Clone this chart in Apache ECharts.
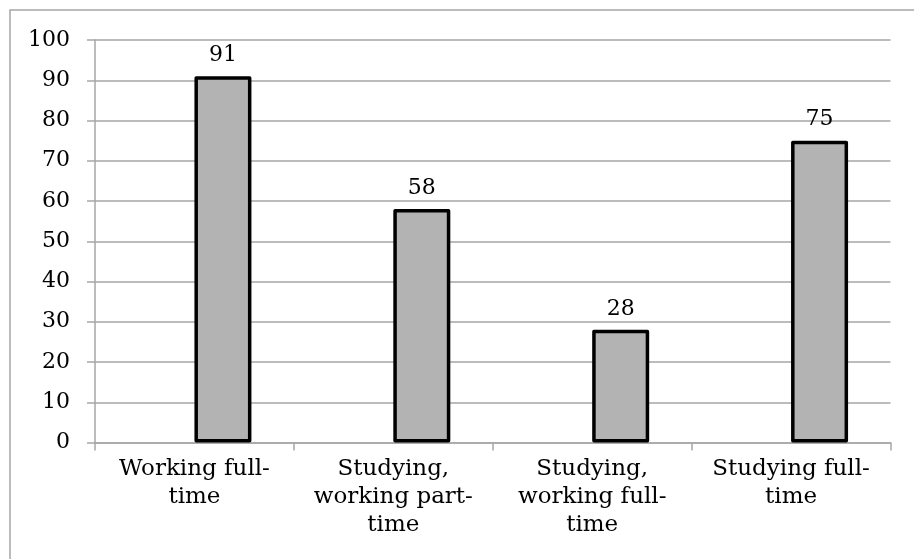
<!DOCTYPE html>
<html>
<head>
<meta charset="utf-8">
<title>Bar chart</title>
<script src="https://cdn.jsdelivr.net/npm/echarts@6/dist/echarts.min.js"></script>
<style>
  html, body { margin: 0; padding: 0; background: #ffffff; }
  #chart { width: 914px; height: 559px; }
</style>
</head>
<body>
<div id="chart"></div>
<script>
// Categories (line breaks as they wrap under the axis)
var categories = [
  'Working full-\ntime',
  'Studying,\nworking part-\ntime',
  'Studying,\nworking full-\ntime',
  'Studying full-\ntime'
];
// Values per category
var values = [91, 58, 28, 75];
// Empty leading series: the bars sit in the second slot of each category
var emptySlot = [null, null, null, null];
// Value axis ticks
var yMin = 0, yMax = 100, yStep = 10;

var FONT = 'DejaVu Serif';

var chart = echarts.init(document.getElementById('chart'), null, { renderer: 'canvas' });
chart.setOption({
  animation: false,
  backgroundColor: '#ffffff',
  graphic: [{
    type: 'rect',
    shape: { x: 10, y: 10, width: 930, height: 580 },
    style: { fill: 'none', stroke: '#a6a6a6', lineWidth: 1.5 },
    silent: true
  }],
  grid: { left: 95, right: 23.5, top: 40, bottom: 116.5, containLabel: false },
  xAxis: {
    type: 'category',
    data: categories,
    axisLine: { show: true, lineStyle: { color: '#a6a6a6', width: 1.5 } },
    axisTick: { show: true, alignWithLabel: false, length: 8, lineStyle: { color: '#a6a6a6', width: 1.5 } },
    axisLabel: {
      interval: 0,
      margin: 13,
      color: '#000000',
      fontFamily: FONT,
      fontSize: 23,
      lineHeight: 28,
      align: 'center'
    }
  },
  yAxis: {
    type: 'value',
    min: yMin,
    max: yMax,
    interval: yStep,
    axisLine: { show: true, lineStyle: { color: '#a6a6a6', width: 1.5 } },
    axisTick: { show: true, length: 8, lineStyle: { color: '#a6a6a6', width: 1.5 } },
    splitLine: { show: true, lineStyle: { color: '#a6a6a6', width: 1.5 } },
    axisLabel: {
      margin: 25,
      color: '#000000',
      fontFamily: FONT,
      fontSize: 22
    }
  },
  series: [
    {
      type: 'bar',
      data: emptySlot,
      barWidth: 57,
      barGap: '0%',
      silent: true
    },
    {
      type: 'bar',
      data: values,
      barWidth: 57,
      barGap: '0%',
      itemStyle: {
        color: '#b3b3b3',
        borderColor: '#000000',
        borderWidth: 3.5,
        borderJoin: 'round'
      },
      label: {
        show: true,
        position: 'top',
        distance: 10,
        color: '#000000',
        fontFamily: FONT,
        fontSize: 22
      }
    }
  ]
});
</script>
</body>
</html>
